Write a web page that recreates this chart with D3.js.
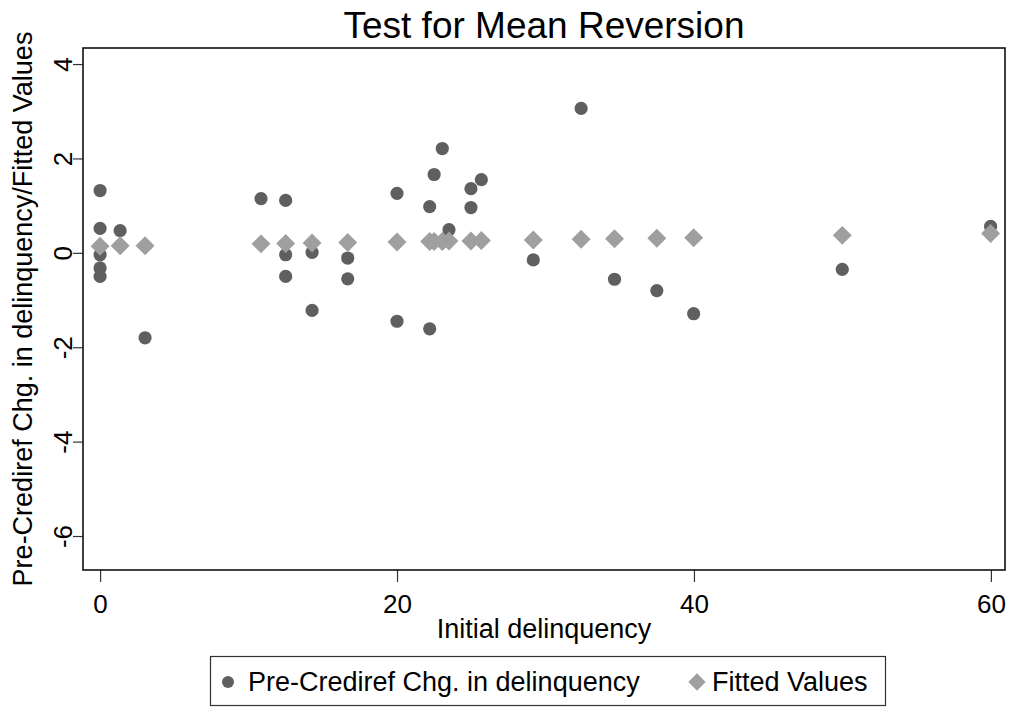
<!DOCTYPE html>
<html>
<head>
<meta charset="utf-8">
<script src="https://cdn.jsdelivr.net/npm/d3@7"></script>
<style>
  body { margin: 0; background: #fff; }
  svg { font-family: "Liberation Sans", Arial, Helvetica, sans-serif; }
</style>
</head>
<body>
<div id="chart"></div>
<script>
// observed points: initial delinquency vs pre-Crediref change
const obsX = [0, 0, 0, 0, 0, 1.35, 3.03, 10.84, 12.5, 12.5, 12.5, 14.28, 14.28,
  16.68, 16.68, 20, 20, 22.2, 22.2, 22.5, 23.05, 23.5, 24.98, 24.98, 25.68,
  29.18, 32.4, 34.65, 37.5, 39.98, 49.99, 59.98];
const obsY = [1.32, 0.52, -0.04, -0.32, -0.5, 0.47, -1.8, 1.15, 1.11, -0.04, -0.5, 0.01, -1.22,
  -0.11, -0.55, 1.26, -1.45, 0.98, -1.61, 1.66, 2.21, 0.49, 1.36, 0.96, 1.55,
  -0.15, 3.06, -0.56, -0.8, -1.29, -0.35, 0.56];

// fitted values, one per distinct x
const fitX = [0, 1.35, 3.03, 10.84, 12.5, 14.28, 16.68, 20, 22.2, 22.5, 23.05, 23.5,
  24.98, 25.68, 29.18, 32.4, 34.65, 37.5, 39.98, 49.99, 59.98];
const fitY = [0.14, 0.15, 0.15, 0.19, 0.2, 0.21, 0.22, 0.23, 0.24, 0.24, 0.24, 0.25,
  0.25, 0.26, 0.27, 0.29, 0.3, 0.31, 0.32, 0.37, 0.41];

const xTicks = [0, 20, 40, 60];
const yTicks = [4, 2, 0, -2, -4, -6];

const titleText = "Test for Mean Reversion";
const xTitle = "Initial delinquency";
const yTitle = "Pre-Crediref Chg. in delinquency/Fitted Values";
const legendLabels = ["Pre-Crediref Chg. in delinquency", "Fitted Values"];

const width = 1012, height = 708;
const plot = {left: 83, right: 1005, top: 48, bottom: 570};
const circleColor = "#5f5f5f", diamondColor = "#9f9f9f";
const fmt = d => String(d); // plain hyphen minus, like the original

const svg = d3.select("#chart").append("svg")
    .attr("width", width)
    .attr("height", height);

const x = d3.scaleLinear().domain([-1.15, 60.95]).range([plot.left, plot.right]);
const y = d3.scaleLinear().domain([-6.72, 4.34]).range([plot.bottom, plot.top]);

// title
svg.append("text")
    .attr("x", (plot.left + plot.right) / 2)
    .attr("y", 38)
    .attr("text-anchor", "middle")
    .style("font-size", "37px")
    .text(titleText);

// axes
const xAxis = svg.append("g")
    .attr("transform", `translate(0,${plot.bottom})`)
    .call(d3.axisBottom(x).tickValues(xTicks).tickSize(12).tickFormat(fmt));
xAxis.select(".domain").remove();
xAxis.selectAll("line").attr("stroke", "#333").attr("stroke-width", 1.2);
xAxis.selectAll("text")
    .attr("y", 43).attr("dy", null)
    .style("font-size", "26px").attr("fill", "#000");

const yAxis = svg.append("g")
    .attr("transform", `translate(${plot.left},0)`)
    .call(d3.axisLeft(y).tickValues(yTicks).tickSize(10).tickFormat(fmt));
yAxis.select(".domain").remove();
yAxis.selectAll("line").attr("stroke", "#333").attr("stroke-width", 1.2);
yAxis.selectAll("text")
    .attr("x", null).attr("dy", null)
    .attr("text-anchor", "middle")
    .attr("transform", "translate(-11,0) rotate(-90)")
    .style("font-size", "26px").attr("fill", "#000");

// plot region outline
svg.append("rect")
    .attr("x", plot.left)
    .attr("y", plot.top)
    .attr("width", plot.right - plot.left)
    .attr("height", plot.bottom - plot.top)
    .attr("fill", "none")
    .attr("stroke", "#111")
    .attr("stroke-width", 1.6);

// axis titles
svg.append("text")
    .attr("x", (plot.left + plot.right) / 2)
    .attr("y", 638)
    .attr("text-anchor", "middle")
    .style("font-size", "27px")
    .text(xTitle);

svg.append("text")
    .attr("transform", `translate(32,${(plot.top + plot.bottom) / 2}) rotate(-90)`)
    .attr("text-anchor", "middle")
    .style("font-size", "27px")
    .text(yTitle);

// markers
const obs = obsX.map((v, i) => ({x: v, y: obsY[i]}));
const fit = fitX.map((v, i) => ({x: v, y: fitY[i]}));

svg.append("g").selectAll("circle")
  .data(obs)
  .join("circle")
    .attr("cx", d => x(d.x))
    .attr("cy", d => y(d.y))
    .attr("r", 6.6)
    .attr("fill", circleColor);

const diamond = d3.symbol().type(d3.symbolSquare).size(180);
svg.append("g").selectAll("path")
  .data(fit)
  .join("path")
    .attr("d", diamond)
    .attr("transform", d => `translate(${x(d.x)},${y(d.y)}) rotate(45)`)
    .attr("fill", diamondColor);

// legend
const legend = svg.append("g");
legend.append("rect")
    .attr("x", 210.5).attr("y", 656.5)
    .attr("width", 675).attr("height", 49)
    .attr("fill", "#fff")
    .attr("stroke", "#333")
    .attr("stroke-width", 1.2);

legend.append("circle")
    .attr("cx", 228).attr("cy", 682)
    .attr("r", 6)
    .attr("fill", circleColor);
legend.append("text")
    .attr("x", 248).attr("y", 691)
    .style("font-size", "27px")
    .text(legendLabels[0]);

legend.append("path")
    .attr("d", d3.symbol().type(d3.symbolSquare).size(150))
    .attr("transform", "translate(697,682) rotate(45)")
    .attr("fill", diamondColor);
legend.append("text")
    .attr("x", 712).attr("y", 691)
    .style("font-size", "27px")
    .text(legendLabels[1]);
</script>
</body>
</html>
